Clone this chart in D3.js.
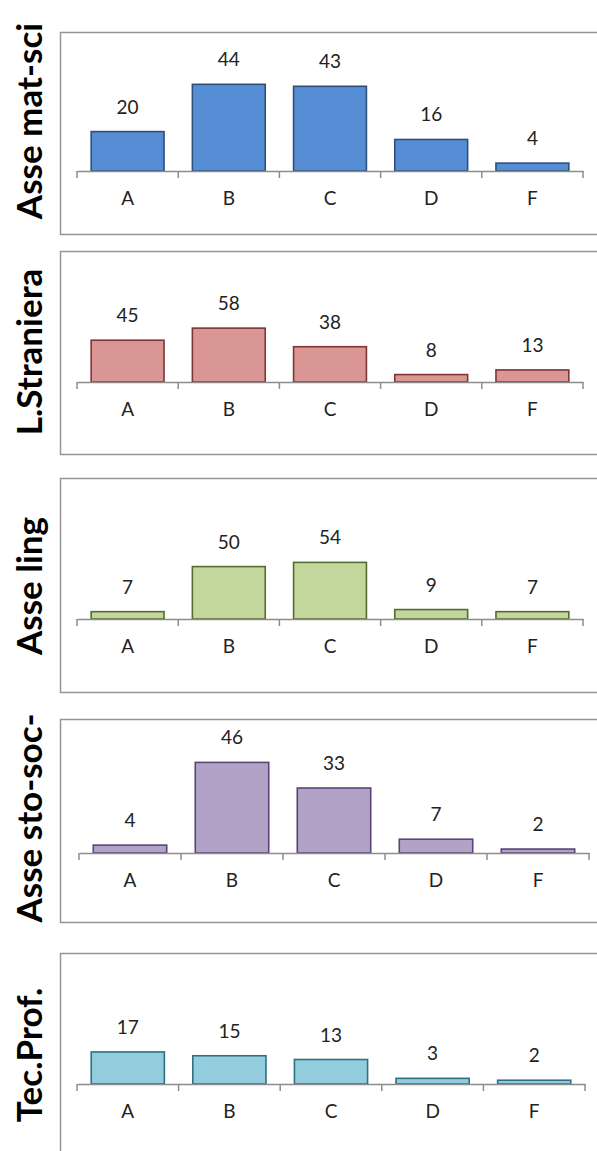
<!DOCTYPE html>
<html>
<head>
<meta charset="utf-8">
<script src="https://cdn.jsdelivr.net/npm/d3@7"></script>
<style>
  html, body { margin: 0; padding: 0; background: #fff; }
  svg { display: block; }
</style>
</head>
<body>
<script>
// Grade distribution (A–F) per subject area
const categories = ["A", "B", "C", "D", "F"];
const subjects = ["Asse mat-sci", "L.Straniera", "Asse ling", "Asse sto-soc-", "Tec.Prof."];
const matSciValues = [20, 44, 43, 16, 4];
const lStranieraValues = [45, 58, 38, 8, 13];
const asseLingValues = [7, 50, 54, 9, 7];
const stoSocValues = [4, 46, 33, 7, 2];
const tecProfValues = [17, 15, 13, 3, 2];
const seriesValues = [matSciValues, lStranieraValues, asseLingValues, stoSocValues, tecProfValues];

// Styling per panel
const fills = ["#558ED5", "#D99694", "#C3D69B", "#B3A2C7", "#93CDDD"];
const strokes = ["#2F4F7A", "#7F3533", "#566B2D", "#5A4577", "#2E7085"];

// Panel layout (frame, baseline, x extent, value domain)
const layout = [
  { top: 32,  bottom: 234,  axisY: 171,  x0: 77, x1: 583, yMax: 66,  titleY: 121 },
  { top: 251, bottom: 454,  axisY: 382,  x0: 77, x1: 583, yMax: 140, titleY: 352 },
  { top: 478, bottom: 692,  axisY: 619,  x0: 77, x1: 583, yMax: 124, titleY: 586 },
  { top: 719, bottom: 922,  axisY: 853,  x0: 79, x1: 589, yMax: 66,  titleY: 818 },
  { top: 953, bottom: 1170, axisY: 1084, x0: 77, x1: 585, yMax: 69,  titleY: 1055 }
];

const W = 597, H = 1151;
const plotH = 130;
const font = "Lato, 'Open Sans', sans-serif";

const svg = d3.select("body").append("svg")
  .attr("width", W).attr("height", H);

layout.forEach((L, i) => {
  const values = seriesValues[i];
  const g = svg.append("g");

  // chart frame
  g.append("rect")
    .attr("x", 60.5).attr("y", L.top + 0.5)
    .attr("width", W + 10).attr("height", L.bottom - L.top)
    .attr("fill", "none").attr("stroke", "#969696").attr("stroke-width", 1.5);

  const x = d3.scaleBand().domain(categories).range([L.x0, L.x1])
    .paddingInner(0.28).paddingOuter(0.14);
  const y = d3.scaleLinear().domain([0, L.yMax]).range([L.axisY, L.axisY - plotH]);

  // bars
  g.selectAll("rect.bar").data(values).join("rect")
    .attr("class", "bar")
    .attr("x", (d, j) => x(categories[j]))
    .attr("y", d => y(d))
    .attr("width", x.bandwidth())
    .attr("height", d => y(0) - y(d))
    .attr("fill", fills[i])
    .attr("stroke", strokes[i])
    .attr("stroke-width", 1.6);

  // category axis
  const axis = g.append("g")
    .attr("transform", `translate(0,${L.axisY})`)
    .call(d3.axisBottom(x).tickSizeInner(0).tickSizeOuter(0).tickPadding(21));
  axis.select(".domain").attr("stroke", "#8C8C8C").attr("stroke-width", 1.5);
  axis.selectAll("text")
    .attr("font-family", font).attr("font-size", 19).attr("fill", "#222");

  // tick marks between categories
  const step = x.step();
  d3.range(categories.length + 1).forEach(k => {
    const tx = L.x0 + k * step;
    axis.append("line")
      .attr("x1", tx).attr("x2", tx).attr("y1", 0).attr("y2", 7)
      .attr("stroke", "#8C8C8C").attr("stroke-width", 1.5);
  });

  // value labels
  g.selectAll("text.val").data(values).join("text")
    .attr("class", "val")
    .attr("x", (d, j) => x(categories[j]) + x.bandwidth() / 2)
    .attr("y", d => y(d) - 18)
    .attr("text-anchor", "middle")
    .attr("font-family", font).attr("font-size", 19).attr("fill", "#222")
    .text(d => d);

  // subject title
  g.append("text")
    .attr("transform", `translate(42,${L.titleY}) rotate(-90)`)
    .attr("text-anchor", "middle")
    .attr("font-family", font).attr("font-weight", "bold")
    .attr("font-size", 35).attr("fill", "#000")
    .text(subjects[i]);
});
</script>
</body>
</html>
